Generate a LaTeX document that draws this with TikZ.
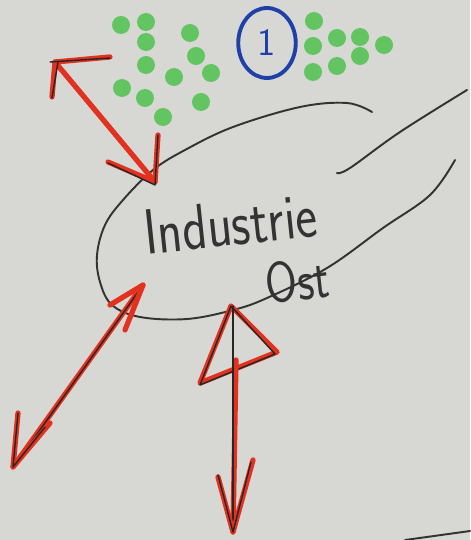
\documentclass[tikz,border=0pt]{standalone}
\usepackage{fontspec}
\usetikzlibrary{shapes.geometric}
\begin{document}
\begin{tikzpicture}[x=0.02cm,y=-0.02cm,
  gdot/.style={circle,fill=dotgreen,inner sep=0pt,minimum size=0.36cm},
  redmark/.style={draw=mred,line width=3pt,line cap=round,line join=round},
  blackthin/.style={draw=black!85,line width=0.8pt,line cap=round,line join=round},
  ink/.style={draw=black!80,line width=1.1pt,line cap=round},
  hand/.style={font=\sffamily\fontsize{28}{30}\selectfont,text=black!80,inner sep=0pt}]
\definecolor{dotgreen}{HTML}{62C562}
\definecolor{mred}{HTML}{E2321F}
\definecolor{mblue}{HTML}{1F40A8}
\definecolor{board}{HTML}{D7D8D3}
\fill[board] (0,0) rectangle (470,540);
\useasboundingbox (0,0) rectangle (470,540);
% green dots left
\foreach \n/\x/\y in {1/121/25,2/146/22,3/146/42,4/190/33,5/146/65,6/196/56,7/174/77,8/211/73,9/122/88,10/145/98,11/201/102,12/163/117}
  \node[gdot] (gl\n) at (\x,\y) {};
% green dots right
\foreach \n/\x/\y in {1/314/21,2/313/46,3/337/38,4/360/37,5/360/56,6/384/45,7/313/72,8/337/66}
  \node[gdot] (gr\n) at (\x,\y) {};
% blue circled 1
\node[draw=mblue,line width=2.2pt,ellipse,minimum width=1.15cm,minimum height=1.4cm,inner sep=0pt,text=mblue,font=\sffamily\fontsize{22}{24}\selectfont] (one) at (267,43) {1};
% ellipse outline (hand drawn)
\draw[ink] plot[smooth,tension=0.6] coordinates {(372,112) (347,103) (300,107) (233,127) (185,150) (153,170) (123,200) (105,225) (97,255) (100,282) (112,305) (140,317) (187,319) (233,310) (267,298) (327,268) (383,228) (430,195) (455,160)};
\draw[ink] plot[smooth,tension=0.6] coordinates {(337,173) (350,168) (400,132) (467,90)};
% text
\node[hand,rotate=6,xscale=1.05,yscale=1.3,align=left,anchor=north west] (ind) at (141,210)
  {Industrie\\[-3pt]\hspace*{2.2cm}{\fontsize{25}{27}\selectfont Ost}};
% red arrow top-left
\coordinate (a1) at (55,62);
\coordinate (a2) at (155,182);
\draw[redmark] (a1) -- (a2);
\draw[redmark] (110,57) -- (a1) -- (52,97);
\draw[redmark] (158,135) -- (a2) -- (108,162);
\draw[blackthin] (50,62) -- (110,58);
\draw[blackthin] (58,62) -- (52,98);
\draw[blackthin] (158,135) -- (155,185) -- (108,163);
% red arrow bottom-left
\coordinate (b1) at (143,285);
\coordinate (b2) at (13,467);
\draw[redmark] (b1) -- (b2);
\draw[blackthin] (141,288) -- (15,465);
\draw[redmark] (110,305) -- (b1) -- (125,330);
\draw[redmark] (18,413) -- (b2) -- (50,423);
\draw[blackthin] (18,413) -- (13,467) -- (45,427);
% red arrow vertical with open head
\coordinate (c1) at (231,306);
\coordinate (c2) at (233,532);
\draw[redmark] (c1) -- (200,383) -- (277,352) -- cycle;
\draw[blackthin] (c1) -- (200,385) -- (275,354) -- cycle;
\draw[redmark] (236,360) -- (c2);
\draw[blackthin] (233,306) -- (233,532);
\draw[redmark] (218,477) -- (c2) -- (253,460);
\draw[blackthin] (218,475) -- (c2) -- (251,462);
% bottom-right line
\draw[ink] (405,540) -- (470,531);
\end{tikzpicture}
\end{document}
